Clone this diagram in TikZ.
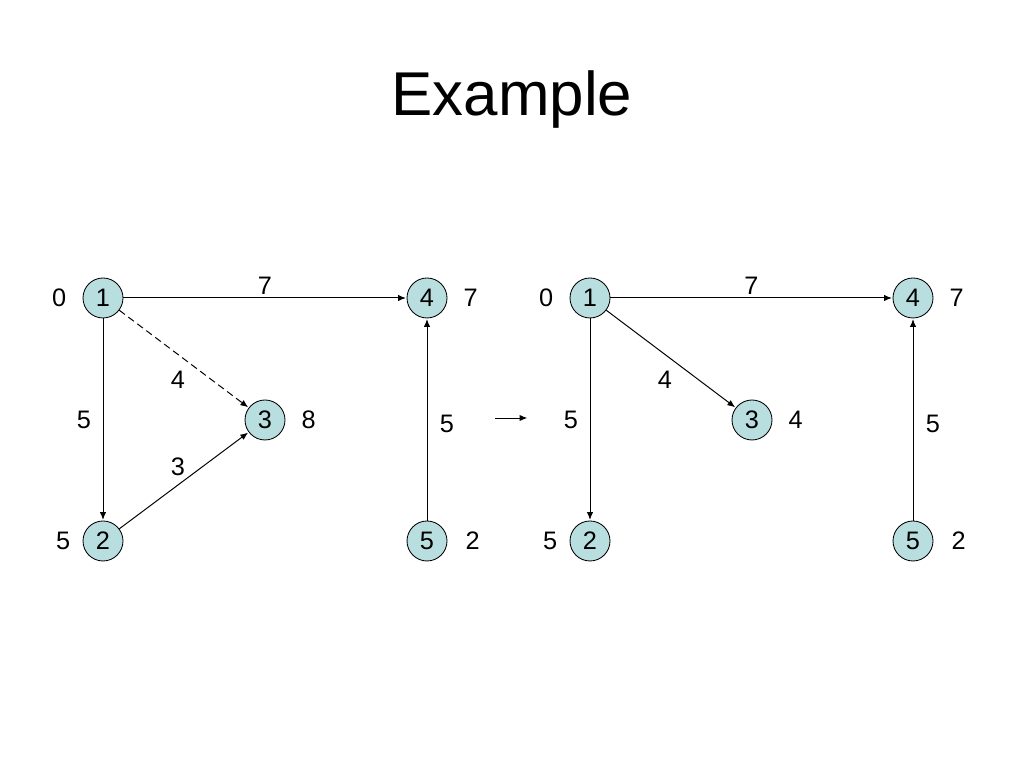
\documentclass[tikz,border=0pt]{standalone}
\usepackage{fontspec}
\setmainfont{Liberation Sans}
\usetikzlibrary{positioning,arrows.meta}
\definecolor{vertexfill}{RGB}{185,222,223}
\begin{document}
\begin{tikzpicture}[font=\fontsize{18}{20}\selectfont,
    vertex/.style={circle,draw,line width=0.6pt,fill=vertexfill,minimum size=1cm,inner sep=0pt},
    edge/.style={line width=0.7pt,-{Latex[length=5.5pt,width=4.5pt]},shorten >=0.5pt},
    lbl/.style={inner sep=0pt},
    dist/.style={inner sep=0pt}]
      \useasboundingbox (0,0) rectangle (25.6,19.2);
      \node (title) at (12.8,16.72) {\fontsize{44}{50}\selectfont Example};

      \node[vertex] (a1) at (2.575,11.75) {1};
      \node[vertex] (a2) at (2.575,5.675) {2};
      \node[vertex] (a3) at (6.625,8.7) {3};
      \node[vertex] (a4) at (10.675,11.75) {4};
      \node[vertex] (a5) at (10.675,5.675) {5};
      \node[dist,left=0.4cm of a1] {0};
      \node[dist,left=0.3cm of a2] {5};
      \node[dist,right=0.4cm of a3] {8};
      \node[dist,right=0.4cm of a4] {7};
      \node[dist,right=0.45cm of a5] {2};
      \draw[edge] (a1) -- node[lbl,above=2pt] {7} (a4);
      \draw[edge,dash pattern=on 5pt off 3pt] (a1) -- node[lbl,xshift=-0.15cm,yshift=-0.52cm] {4} (a3);
      \draw[edge] (a1) -- node[lbl,xshift=-0.475cm] {5} (a2);
      \draw[edge] (a2) -- node[lbl,xshift=-0.15cm,yshift=0.34cm] {3} (a3);
      \draw[edge] (a5) -- node[lbl,xshift=0.5cm,yshift=-0.1cm] {5} (a4);

      \coordinate (step0) at (12.375,8.75); \coordinate (step1) at (13.2,8.75);
      \draw[edge] (step0) -- (step1);

      \node[vertex] (b1) at (14.75,11.75) {1};
      \node[vertex] (b2) at (14.75,5.675) {2};
      \node[vertex] (b3) at (18.8,8.7) {3};
      \node[vertex] (b4) at (22.825,11.75) {4};
      \node[vertex] (b5) at (22.825,5.675) {5};
      \node[dist,left=0.4cm of b1] {0};
      \node[dist,left=0.3cm of b2] {5};
      \node[dist,right=0.4cm of b3] {4};
      \node[dist,right=0.4cm of b4] {7};
      \node[dist,right=0.45cm of b5] {2};
      \draw[edge] (b1) -- node[lbl,above=2pt] {7} (b4);
      \draw[edge] (b1) -- node[lbl,xshift=-0.15cm,yshift=-0.52cm] {4} (b3);
      \draw[edge] (b1) -- node[lbl,xshift=-0.475cm] {5} (b2);
      \draw[edge] (b5) -- node[lbl,xshift=0.5cm,yshift=-0.1cm] {5} (b4);
    \end{tikzpicture}
\end{document}
